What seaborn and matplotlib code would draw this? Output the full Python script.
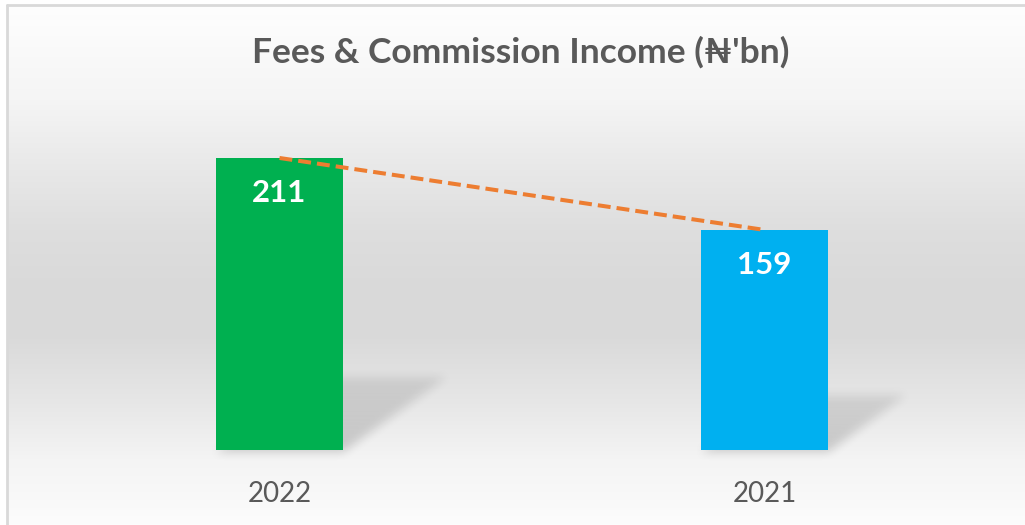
import numpy as np
import pandas as pd
import seaborn as sns
import matplotlib
matplotlib.use('Agg')
import matplotlib.pyplot as plt
from matplotlib.path import Path
from matplotlib.lines import Line2D

# data
years = ['2022', '2021']
income = [211, 159]
bar_colors = ['#00B050', '#00B0F0']
title = "Fees & Commission Income (₦'bn)"

sns.set_style('white')
plt.rcParams['font.family'] = ['Lato', 'DejaVu Sans']

W, H = 1025, 525
fig = plt.figure(figsize=(W / 100, H / 100), dpi=100)
fig.patch.set_facecolor('white')

# background gradient (white -> grey -> white)
bg = fig.add_axes([7 / W, 0, 1 - 7 / W, 1 - 5 / H], zorder=0)
stops_y = [0, 65, 125, 185, 235, 295, 355, 425, 520]
levels = [252, 244, 230, 218, 217, 222, 232, 245, 254]
grad = np.interp(np.arange(H - 5), stops_y, levels) / 255
img = np.repeat(grad[:, None, None], 3, axis=2)
bg.imshow(img, origin='lower', aspect='auto', extent=(0, 1, 0, 1))
bg.axis('off')

# main chart
ax = fig.add_axes([37 / W, 75 / H, 970 / W, 346 / H], zorder=2)
ax.patch.set_alpha(0)
df = pd.DataFrame({'year': years, 'income': income})
sns.barplot(data=df, x='year', y='income', hue='year', palette=bar_colors,
            width=0.262, legend=False, saturation=1, linewidth=0, ax=ax)
ax.set_xlim(-0.5, 1.5)
ax.set_ylim(0, 250)
sns.despine(ax=ax, left=True, bottom=True)
ax.set_yticks([])
ax.set_xlabel('')
ax.set_ylabel('')
ax.tick_params(axis='x', length=0, pad=22, labelsize=20, labelcolor='#595959')

# trend line between bar tops
ax.plot(range(len(income)), income, color='#ED7D31', lw=2.9,
        ls=(0, (3.2, 1.5)), zorder=5)

# value labels inside the bars
for i, v in enumerate(income):
    ax.annotate(str(v), (i, v), xytext=(0, -25), textcoords='offset points',
                ha='center', va='center', color='white', fontsize=22.5,
                fontweight='bold', zorder=6)

# perspective shadows behind bars
gx, gy = np.meshgrid(np.arange(W) + 0.5, np.arange(H) + 0.5)
pts = np.column_stack([gx.ravel(), gy.ravel()])
shadow = np.zeros((H, W))
for p in ax.patches:
    x0, x1, h = p.get_x(), p.get_x() + p.get_width(), p.get_height()
    a = ax.transData.transform((x0, 0))
    b = ax.transData.transform((x1, 0))
    hp = ax.transData.transform((x0, h))[1] - a[1]
    dx, dy = 0.355 * hp, 0.25 * hp
    verts = [(a[0], a[1] - 2), (b[0], b[1] - 2), (b[0] + dx, b[1] + dy), (a[0] + dx, a[1] + dy)]
    inside = Path(verts).contains_points(pts).reshape(H, W).astype(float)
    t = np.clip((gy - a[1]) / dy, 0, 1)
    shadow = np.maximum(shadow, inside * (1 - 0.45 * t))


def box_blur(arr, r):
    out = arr
    for axis in (0, 1):
        c = np.cumsum(np.pad(out, [(r + 1, r) if k == axis else (0, 0) for k in (0, 1)]), axis=axis)
        if axis == 0:
            out = (c[2 * r + 1:, :] - c[:-2 * r - 1, :]) / (2 * r + 1)
        else:
            out = (c[:, 2 * r + 1:] - c[:, :-2 * r - 1]) / (2 * r + 1)
    return out


shadow = box_blur(box_blur(shadow, 5), 5)
rgba = np.zeros((H, W, 4))
rgba[..., 3] = shadow * 0.17
sh = fig.add_axes([0, 0, 1, 1], zorder=1)
sh.imshow(rgba, origin='lower', extent=(0, W, 0, H), aspect='auto', interpolation='none')
sh.set_xlim(0, W)
sh.set_ylim(0, H)
sh.patch.set_alpha(0)
sh.axis('off')

# title
fig.text(521 / W, 1 - 52 / H, title, ha='center', va='center', fontsize=25.5,
         fontweight='bold', color='#595959')

# chart border
fig.add_artist(Line2D([7 / W, 1], [1 - 5 / H, 1 - 5 / H], transform=fig.transFigure,
                      color='#D9D9D9', lw=2))
fig.add_artist(Line2D([7 / W, 7 / W], [0, 1 - 5 / H], transform=fig.transFigure,
                      color='#D9D9D9', lw=2))

fig.savefig('out.png', dpi=100)
